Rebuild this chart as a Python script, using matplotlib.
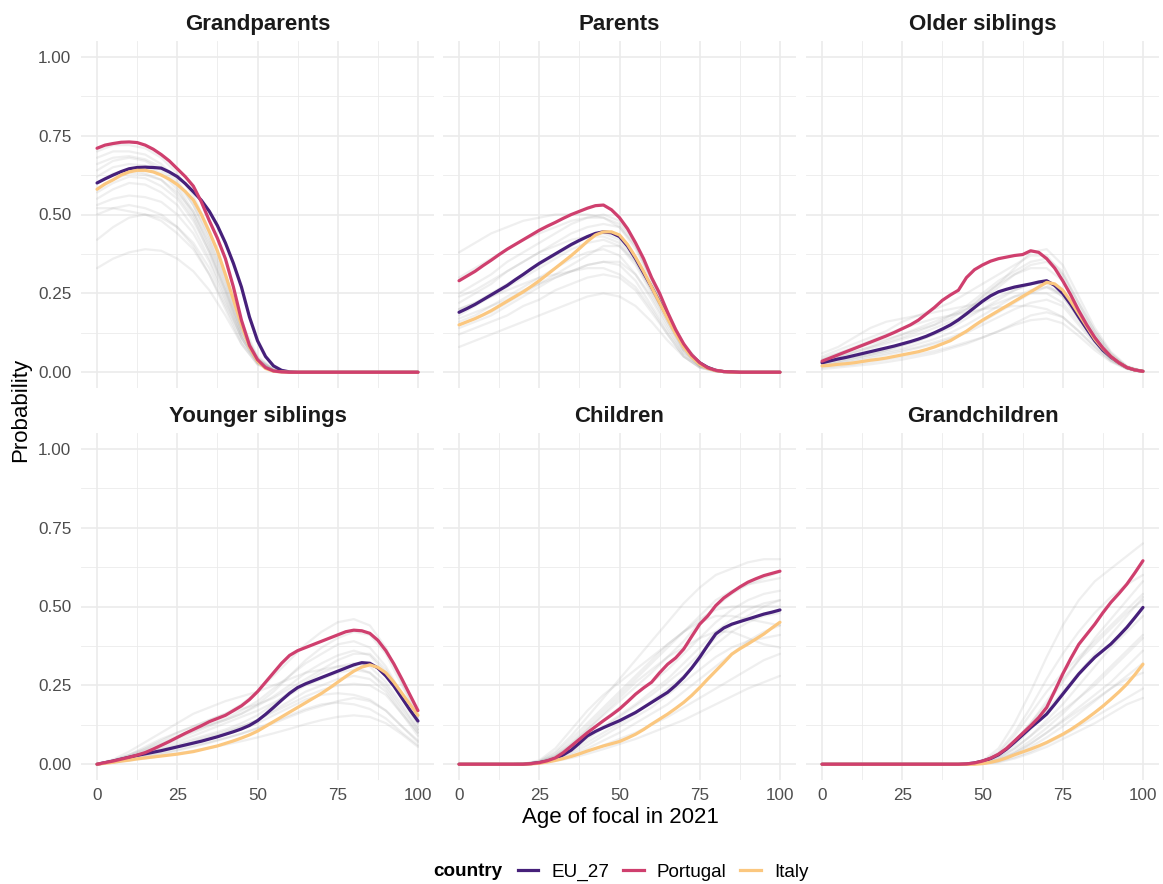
import matplotlib.pyplot as plt
from matplotlib.lines import Line2D

plt.rcParams['font.family'] = ['Liberation Sans', 'DejaVu Sans']

# ages of focal: every 5 years for the other countries, every 2.5 years for the highlighted ones
ages = [0, 5, 10, 15, 20, 25, 30, 35, 40, 45, 50, 55, 60, 65, 70, 75, 80, 85, 90, 95, 100]
ages_fine = [0, 2.5, 5, 7.5, 10, 12.5, 15, 17.5, 20, 22.5, 25, 27.5, 30, 32.5, 35, 37.5, 40,
             42.5, 45, 47.5, 50, 52.5, 55, 57.5, 60, 62.5, 65, 67.5, 70, 72.5, 75, 77.5, 80,
             82.5, 85, 87.5, 90, 92.5, 95, 97.5, 100]

kin_types = ["Grandparents", "Parents", "Older siblings",
             "Younger siblings", "Children", "Grandchildren"]
countries = ["EU_27", "Portugal", "Italy"]
colours = ["#46207A", "#CF3F6E", "#FBC77F"]

# --- Grandparents ---
gp_eu = [0.60, 0.613, 0.625, 0.636, 0.645, 0.649, 0.65, 0.649, 0.647, 0.635, 0.62, 0.598, 0.572,
         0.545, 0.51, 0.465, 0.41, 0.345, 0.27, 0.175, 0.10, 0.05, 0.02, 0.006, 0.001] + [0] * 16
gp_pt = [0.71, 0.72, 0.725, 0.729, 0.73, 0.728, 0.72, 0.707, 0.69, 0.67, 0.645, 0.62, 0.59,
         0.54, 0.48, 0.425, 0.36, 0.27, 0.165, 0.085, 0.04, 0.015, 0.004, 0.001] + [0] * 17
gp_it = [0.58, 0.597, 0.61, 0.625, 0.635, 0.64, 0.64, 0.635, 0.625, 0.612, 0.595, 0.573, 0.546,
         0.50, 0.445, 0.385, 0.31, 0.23, 0.15, 0.08, 0.035, 0.012, 0.003, 0.001] + [0] * 17
gp_other = [
    [0.70, 0.72, 0.72, 0.71, 0.68, 0.63, 0.56, 0.45, 0.31, 0.16, 0.05, 0.01, 0.001, 0, 0, 0, 0, 0, 0, 0, 0],
    [0.68, 0.70, 0.70, 0.69, 0.66, 0.61, 0.53, 0.42, 0.29, 0.14, 0.04, 0.008, 0.001, 0, 0, 0, 0, 0, 0, 0, 0],
    [0.66, 0.68, 0.685, 0.675, 0.65, 0.60, 0.53, 0.43, 0.30, 0.15, 0.045, 0.008, 0.001, 0, 0, 0, 0, 0, 0, 0, 0],
    [0.64, 0.67, 0.68, 0.67, 0.64, 0.59, 0.51, 0.40, 0.27, 0.13, 0.04, 0.006, 0, 0, 0, 0, 0, 0, 0, 0, 0],
    [0.62, 0.65, 0.66, 0.655, 0.63, 0.58, 0.50, 0.39, 0.26, 0.12, 0.035, 0.005, 0, 0, 0, 0, 0, 0, 0, 0, 0],
    [0.60, 0.63, 0.64, 0.63, 0.61, 0.56, 0.49, 0.38, 0.25, 0.12, 0.035, 0.005, 0, 0, 0, 0, 0, 0, 0, 0, 0],
    [0.57, 0.60, 0.62, 0.615, 0.59, 0.55, 0.48, 0.38, 0.26, 0.13, 0.04, 0.007, 0, 0, 0, 0, 0, 0, 0, 0, 0],
    [0.55, 0.58, 0.60, 0.595, 0.57, 0.53, 0.46, 0.36, 0.24, 0.11, 0.03, 0.005, 0, 0, 0, 0, 0, 0, 0, 0, 0],
    [0.53, 0.55, 0.56, 0.555, 0.54, 0.50, 0.44, 0.35, 0.23, 0.11, 0.03, 0.005, 0, 0, 0, 0, 0, 0, 0, 0, 0],
    [0.52, 0.52, 0.51, 0.50, 0.48, 0.44, 0.39, 0.31, 0.21, 0.10, 0.03, 0.005, 0, 0, 0, 0, 0, 0, 0, 0, 0],
    [0.50, 0.52, 0.53, 0.52, 0.50, 0.46, 0.40, 0.31, 0.20, 0.09, 0.025, 0.004, 0, 0, 0, 0, 0, 0, 0, 0, 0],
    [0.42, 0.46, 0.49, 0.50, 0.49, 0.46, 0.41, 0.33, 0.22, 0.11, 0.03, 0.005, 0, 0, 0, 0, 0, 0, 0, 0, 0],
    [0.33, 0.36, 0.38, 0.39, 0.385, 0.36, 0.32, 0.26, 0.18, 0.09, 0.025, 0.004, 0, 0, 0, 0, 0, 0, 0, 0, 0],
    [0.58, 0.61, 0.63, 0.625, 0.61, 0.57, 0.51, 0.41, 0.28, 0.14, 0.045, 0.008, 0.001, 0, 0, 0, 0, 0, 0, 0, 0],
]

# --- Parents ---
pa_eu = [0.19, 0.202, 0.215, 0.23, 0.245, 0.26, 0.275, 0.293, 0.31, 0.328,
         0.345, 0.36, 0.375, 0.39, 0.405, 0.418, 0.43, 0.44, 0.445, 0.442,
         0.43, 0.40, 0.36, 0.315, 0.27, 0.222, 0.175, 0.128, 0.085, 0.053,
         0.03, 0.015, 0.006, 0.002, 0.001] + [0] * 6
pa_pt = [0.29, 0.305, 0.32, 0.338, 0.355, 0.373, 0.39, 0.405, 0.42, 0.435,
         0.45, 0.463, 0.475, 0.488, 0.50, 0.51, 0.52, 0.528, 0.53, 0.515,
         0.49, 0.455, 0.41, 0.36, 0.30, 0.25, 0.19, 0.135, 0.09, 0.055,
         0.03, 0.014, 0.006, 0.002, 0.001] + [0] * 6
pa_it = [0.15, 0.16, 0.17, 0.182, 0.195, 0.21, 0.225, 0.24, 0.255, 0.272,
         0.29, 0.31, 0.33, 0.35, 0.37, 0.392, 0.415, 0.435, 0.445, 0.445,
         0.435, 0.405, 0.365, 0.32, 0.27, 0.22, 0.17, 0.122, 0.08, 0.048,
         0.025, 0.012, 0.005, 0.002] + [0] * 7
pa_other = [
    [0.38, 0.41, 0.44, 0.46, 0.48, 0.49, 0.50, 0.50, 0.50, 0.49, 0.46, 0.39, 0.29, 0.18, 0.08, 0.025, 0.005, 0.001, 0, 0, 0],
    [0.30, 0.33, 0.36, 0.39, 0.42, 0.44, 0.46, 0.48, 0.49, 0.49, 0.47, 0.40, 0.29, 0.18, 0.08, 0.025, 0.005, 0.001, 0, 0, 0],
    [0.25, 0.28, 0.31, 0.35, 0.38, 0.41, 0.44, 0.47, 0.49, 0.50, 0.48, 0.41, 0.30, 0.19, 0.09, 0.03, 0.006, 0.001, 0, 0, 0],
    [0.22, 0.25, 0.28, 0.32, 0.35, 0.38, 0.41, 0.44, 0.46, 0.47, 0.46, 0.40, 0.30, 0.19, 0.09, 0.03, 0.006, 0.001, 0, 0, 0],
    [0.20, 0.22, 0.25, 0.28, 0.31, 0.34, 0.37, 0.40, 0.43, 0.44, 0.42, 0.36, 0.27, 0.17, 0.08, 0.025, 0.005, 0.001, 0, 0, 0],
    [0.18, 0.21, 0.24, 0.27, 0.30, 0.33, 0.36, 0.39, 0.41, 0.42, 0.40, 0.34, 0.25, 0.16, 0.07, 0.02, 0.004, 0, 0, 0, 0],
    [0.16, 0.18, 0.21, 0.24, 0.27, 0.30, 0.33, 0.36, 0.38, 0.39, 0.37, 0.31, 0.23, 0.14, 0.06, 0.02, 0.004, 0, 0, 0, 0],
    [0.14, 0.16, 0.18, 0.21, 0.24, 0.27, 0.30, 0.32, 0.34, 0.35, 0.34, 0.29, 0.21, 0.13, 0.06, 0.02, 0.004, 0, 0, 0, 0],
    [0.20, 0.22, 0.24, 0.26, 0.28, 0.30, 0.31, 0.32, 0.33, 0.33, 0.31, 0.27, 0.20, 0.12, 0.05, 0.015, 0.003, 0, 0, 0, 0],
    [0.12, 0.14, 0.16, 0.18, 0.21, 0.23, 0.26, 0.28, 0.30, 0.31, 0.30, 0.26, 0.19, 0.12, 0.05, 0.015, 0.003, 0, 0, 0, 0],
    [0.08, 0.10, 0.12, 0.14, 0.16, 0.18, 0.20, 0.22, 0.24, 0.25, 0.24, 0.21, 0.16, 0.10, 0.05, 0.015, 0.003, 0, 0, 0, 0],
    [0.15, 0.17, 0.19, 0.22, 0.25, 0.28, 0.31, 0.34, 0.37, 0.40, 0.40, 0.35, 0.26, 0.17, 0.08, 0.025, 0.005, 0.001, 0, 0, 0],
    [0.24, 0.26, 0.29, 0.32, 0.35, 0.38, 0.40, 0.42, 0.43, 0.43, 0.41, 0.35, 0.26, 0.16, 0.07, 0.02, 0.004, 0, 0, 0, 0],
    [0.17, 0.19, 0.21, 0.23, 0.26, 0.28, 0.30, 0.32, 0.34, 0.35, 0.35, 0.31, 0.24, 0.15, 0.07, 0.02, 0.004, 0, 0, 0, 0],
]

# --- Older siblings ---
os_eu = [0.03, 0.036, 0.042, 0.047, 0.053, 0.059, 0.065, 0.071, 0.077, 0.083,
         0.09, 0.097, 0.105, 0.114, 0.125, 0.137, 0.15, 0.166, 0.185, 0.205,
         0.225, 0.242, 0.255, 0.263, 0.27, 0.275, 0.28, 0.286, 0.29, 0.275,
         0.25, 0.215, 0.175, 0.137, 0.10, 0.07, 0.048, 0.03, 0.015, 0.007, 0.003]
os_pt = [0.035, 0.045, 0.055, 0.065, 0.075, 0.085, 0.095, 0.105, 0.115, 0.126,
         0.138, 0.15, 0.165, 0.185, 0.205, 0.228, 0.245, 0.26, 0.30, 0.325,
         0.34, 0.352, 0.36, 0.365, 0.37, 0.373, 0.385, 0.38, 0.36, 0.33,
         0.29, 0.245, 0.195, 0.15, 0.11, 0.077, 0.05, 0.03, 0.015, 0.007, 0.003]
os_it = [0.02, 0.022, 0.025, 0.027, 0.03, 0.034, 0.038, 0.041, 0.045, 0.05,
         0.055, 0.06, 0.065, 0.072, 0.08, 0.09, 0.10, 0.115, 0.13, 0.148,
         0.165, 0.18, 0.195, 0.21, 0.225, 0.24, 0.255, 0.27, 0.285, 0.28,
         0.26, 0.225, 0.185, 0.145, 0.105, 0.075, 0.05, 0.03, 0.015, 0.007, 0.003]
os_other = [
    [0.05, 0.07, 0.09, 0.11, 0.13, 0.16, 0.18, 0.20, 0.22, 0.25, 0.28, 0.31, 0.34, 0.37, 0.37, 0.31, 0.21, 0.12, 0.05, 0.015, 0.003],
    [0.06, 0.08, 0.11, 0.14, 0.16, 0.17, 0.18, 0.19, 0.20, 0.21, 0.22, 0.24, 0.26, 0.28, 0.28, 0.24, 0.17, 0.10, 0.045, 0.013, 0.003],
    [0.04, 0.05, 0.065, 0.08, 0.095, 0.11, 0.13, 0.15, 0.18, 0.21, 0.25, 0.29, 0.32, 0.35, 0.36, 0.32, 0.22, 0.13, 0.06, 0.017, 0.003],
    [0.03, 0.04, 0.05, 0.06, 0.07, 0.085, 0.10, 0.12, 0.14, 0.17, 0.20, 0.23, 0.26, 0.28, 0.29, 0.26, 0.19, 0.11, 0.05, 0.015, 0.003],
    [0.025, 0.035, 0.045, 0.055, 0.065, 0.075, 0.09, 0.105, 0.125, 0.15, 0.18, 0.21, 0.24, 0.26, 0.27, 0.24, 0.17, 0.10, 0.045, 0.013, 0.003],
    [0.02, 0.028, 0.036, 0.045, 0.055, 0.065, 0.077, 0.09, 0.105, 0.125, 0.15, 0.175, 0.20, 0.22, 0.23, 0.21, 0.15, 0.09, 0.04, 0.012, 0.002],
    [0.015, 0.02, 0.025, 0.032, 0.04, 0.048, 0.057, 0.067, 0.08, 0.095, 0.11, 0.13, 0.15, 0.165, 0.17, 0.155, 0.115, 0.07, 0.033, 0.01, 0.002],
    [0.03, 0.045, 0.06, 0.075, 0.09, 0.105, 0.12, 0.14, 0.16, 0.18, 0.20, 0.22, 0.24, 0.25, 0.25, 0.22, 0.16, 0.095, 0.043, 0.013, 0.003],
    [0.035, 0.05, 0.065, 0.08, 0.10, 0.12, 0.14, 0.16, 0.18, 0.20, 0.23, 0.27, 0.31, 0.33, 0.33, 0.29, 0.20, 0.12, 0.055, 0.016, 0.003],
    [0.01, 0.015, 0.02, 0.025, 0.032, 0.04, 0.05, 0.06, 0.075, 0.09, 0.11, 0.13, 0.155, 0.18, 0.19, 0.175, 0.13, 0.08, 0.037, 0.011, 0.002],
    [0.04, 0.06, 0.08, 0.10, 0.12, 0.14, 0.155, 0.17, 0.18, 0.19, 0.20, 0.205, 0.21, 0.21, 0.20, 0.175, 0.13, 0.08, 0.037, 0.011, 0.002],
    [0.025, 0.035, 0.045, 0.055, 0.07, 0.085, 0.10, 0.12, 0.15, 0.19, 0.24, 0.28, 0.31, 0.34, 0.35, 0.31, 0.22, 0.13, 0.06, 0.017, 0.003],
    [0.02, 0.03, 0.04, 0.05, 0.06, 0.07, 0.08, 0.095, 0.11, 0.13, 0.16, 0.19, 0.22, 0.25, 0.27, 0.25, 0.18, 0.11, 0.05, 0.015, 0.003],
    [0.045, 0.06, 0.075, 0.09, 0.105, 0.12, 0.135, 0.15, 0.17, 0.20, 0.24, 0.28, 0.33, 0.38, 0.39, 0.34, 0.24, 0.14, 0.065, 0.02, 0.004],
]

# --- Younger siblings ---
ys_eu = [0, 0.005, 0.01, 0.016, 0.022, 0.028, 0.033, 0.038, 0.043, 0.049,
         0.055, 0.061, 0.067, 0.073, 0.08, 0.087, 0.095, 0.103, 0.112, 0.123,
         0.138, 0.158, 0.18, 0.203, 0.225, 0.243, 0.255, 0.265, 0.275, 0.285,
         0.295, 0.305, 0.315, 0.322, 0.32, 0.305, 0.28, 0.248, 0.21, 0.172, 0.137]
ys_pt = [0, 0.005, 0.01, 0.016, 0.022, 0.029, 0.037, 0.048, 0.06, 0.072,
         0.085, 0.098, 0.11, 0.122, 0.135, 0.145, 0.155, 0.17, 0.185, 0.205,
         0.23, 0.26, 0.29, 0.32, 0.345, 0.36, 0.37, 0.38, 0.39, 0.40,
         0.41, 0.42, 0.425, 0.423, 0.415, 0.393, 0.36, 0.318, 0.27, 0.22, 0.17]
ys_it = [0, 0.003, 0.006, 0.01, 0.013, 0.017, 0.02, 0.023, 0.026, 0.029,
         0.032, 0.036, 0.04, 0.046, 0.052, 0.058, 0.066, 0.074, 0.083, 0.093,
         0.105, 0.12, 0.135, 0.15, 0.165, 0.18, 0.195, 0.21, 0.225, 0.242,
         0.26, 0.278, 0.295, 0.308, 0.315, 0.307, 0.29, 0.26, 0.225, 0.19, 0.155]
ys_other = [
    [0, 0.012, 0.03, 0.055, 0.08, 0.10, 0.12, 0.14, 0.16, 0.19, 0.23, 0.28, 0.33, 0.38, 0.42, 0.45, 0.46, 0.44, 0.37, 0.26, 0.15],
    [0, 0.015, 0.04, 0.07, 0.10, 0.13, 0.16, 0.18, 0.20, 0.215, 0.23, 0.25, 0.27, 0.29, 0.30, 0.31, 0.31, 0.29, 0.24, 0.17, 0.10],
    [0, 0.01, 0.025, 0.045, 0.065, 0.085, 0.105, 0.125, 0.145, 0.17, 0.20, 0.24, 0.28, 0.32, 0.35, 0.38, 0.39, 0.37, 0.31, 0.22, 0.13],
    [0, 0.008, 0.02, 0.035, 0.05, 0.065, 0.08, 0.095, 0.11, 0.13, 0.155, 0.19, 0.23, 0.26, 0.29, 0.31, 0.32, 0.31, 0.26, 0.19, 0.11],
    [0, 0.008, 0.018, 0.03, 0.043, 0.056, 0.07, 0.085, 0.10, 0.12, 0.14, 0.17, 0.20, 0.23, 0.25, 0.27, 0.28, 0.27, 0.23, 0.16, 0.09],
    [0, 0.006, 0.014, 0.024, 0.035, 0.046, 0.058, 0.07, 0.083, 0.097, 0.113, 0.13, 0.15, 0.17, 0.185, 0.20, 0.21, 0.20, 0.17, 0.12, 0.07],
    [0, 0.005, 0.011, 0.018, 0.026, 0.034, 0.043, 0.052, 0.062, 0.073, 0.085, 0.098, 0.112, 0.127, 0.14, 0.15, 0.155, 0.15, 0.13, 0.095, 0.055],
    [0, 0.012, 0.03, 0.05, 0.075, 0.10, 0.12, 0.14, 0.16, 0.175, 0.19, 0.21, 0.24, 0.27, 0.30, 0.33, 0.35, 0.35, 0.30, 0.22, 0.13],
    [0, 0.01, 0.022, 0.038, 0.055, 0.072, 0.09, 0.11, 0.13, 0.15, 0.17, 0.195, 0.22, 0.25, 0.27, 0.29, 0.30, 0.29, 0.25, 0.18, 0.11],
    [0, 0.009, 0.02, 0.033, 0.047, 0.06, 0.075, 0.09, 0.105, 0.12, 0.14, 0.165, 0.19, 0.215, 0.235, 0.25, 0.255, 0.25, 0.22, 0.16, 0.10],
    [0, 0.007, 0.016, 0.027, 0.04, 0.053, 0.066, 0.08, 0.095, 0.11, 0.13, 0.155, 0.18, 0.205, 0.22, 0.225, 0.22, 0.205, 0.17, 0.12, 0.075],
    [0, 0.012, 0.028, 0.048, 0.07, 0.09, 0.11, 0.125, 0.14, 0.16, 0.19, 0.23, 0.28, 0.33, 0.37, 0.40, 0.42, 0.41, 0.35, 0.25, 0.15],
    [0, 0.006, 0.013, 0.022, 0.032, 0.043, 0.055, 0.068, 0.082, 0.097, 0.115, 0.135, 0.155, 0.175, 0.19, 0.195, 0.19, 0.175, 0.145, 0.10, 0.06],
    [0, 0.01, 0.024, 0.042, 0.06, 0.08, 0.10, 0.12, 0.14, 0.16, 0.185, 0.215, 0.25, 0.29, 0.32, 0.345, 0.36, 0.345, 0.29, 0.21, 0.12],
]

# --- Children ---
ch_eu = [0] * 9 + [0.002, 0.005, 0.01, 0.018, 0.03, 0.045, 0.067, 0.09, 0.104, 0.116,
                   0.127, 0.138, 0.151, 0.164, 0.18, 0.196, 0.212, 0.228, 0.25, 0.275,
                   0.305, 0.339, 0.377, 0.413, 0.432, 0.444, 0.452, 0.46, 0.468, 0.476,
                   0.482, 0.489]
ch_pt = [0] * 9 + [0.002, 0.005, 0.011, 0.02, 0.037, 0.058, 0.079, 0.10, 0.119, 0.138,
                   0.156, 0.175, 0.198, 0.222, 0.242, 0.26, 0.29, 0.317, 0.337, 0.365,
                   0.405, 0.444, 0.47, 0.503, 0.527, 0.545, 0.562, 0.577, 0.588, 0.598,
                   0.605, 0.612]
ch_it = [0] * 9 + [0.001, 0.003, 0.007, 0.012, 0.018, 0.025, 0.033, 0.042, 0.05, 0.058,
                   0.065, 0.072, 0.083, 0.095, 0.11, 0.127, 0.143, 0.159, 0.177, 0.196,
                   0.218, 0.243, 0.27, 0.296, 0.322, 0.349, 0.366, 0.381, 0.397, 0.413,
                   0.432, 0.45]
ch_other = [
    [0, 0, 0, 0, 0.001, 0.01, 0.04, 0.09, 0.15, 0.21, 0.27, 0.33, 0.39, 0.45, 0.51, 0.56, 0.60, 0.62, 0.64, 0.65, 0.65],
    [0, 0, 0, 0, 0.001, 0.012, 0.05, 0.11, 0.17, 0.22, 0.26, 0.30, 0.34, 0.38, 0.42, 0.46, 0.49, 0.50, 0.50, 0.50, 0.50],
    [0, 0, 0, 0, 0.001, 0.008, 0.03, 0.07, 0.12, 0.17, 0.22, 0.27, 0.32, 0.37, 0.42, 0.47, 0.52, 0.55, 0.57, 0.58, 0.59],
    [0, 0, 0, 0, 0.001, 0.007, 0.025, 0.06, 0.10, 0.14, 0.18, 0.22, 0.26, 0.30, 0.35, 0.40, 0.45, 0.49, 0.52, 0.54, 0.55],
    [0, 0, 0, 0, 0.001, 0.006, 0.022, 0.05, 0.085, 0.12, 0.155, 0.19, 0.23, 0.27, 0.32, 0.37, 0.42, 0.46, 0.49, 0.51, 0.52],
    [0, 0, 0, 0, 0.001, 0.005, 0.018, 0.04, 0.07, 0.10, 0.13, 0.16, 0.20, 0.24, 0.28, 0.33, 0.38, 0.42, 0.45, 0.47, 0.48],
    [0, 0, 0, 0, 0.001, 0.004, 0.014, 0.03, 0.05, 0.075, 0.10, 0.13, 0.16, 0.19, 0.23, 0.27, 0.31, 0.35, 0.39, 0.42, 0.44],
    [0, 0, 0, 0, 0.001, 0.004, 0.012, 0.025, 0.04, 0.06, 0.08, 0.10, 0.125, 0.15, 0.18, 0.21, 0.24, 0.27, 0.30, 0.33, 0.35],
    [0, 0, 0, 0, 0.001, 0.003, 0.01, 0.02, 0.033, 0.048, 0.064, 0.08, 0.10, 0.12, 0.14, 0.165, 0.19, 0.215, 0.24, 0.26, 0.28],
    [0, 0, 0, 0, 0.001, 0.008, 0.035, 0.08, 0.13, 0.18, 0.23, 0.28, 0.33, 0.38, 0.42, 0.45, 0.47, 0.47, 0.46, 0.45, 0.44],
    [0, 0, 0, 0, 0.001, 0.006, 0.025, 0.06, 0.11, 0.16, 0.21, 0.26, 0.30, 0.34, 0.37, 0.40, 0.42, 0.42, 0.40, 0.38, 0.37],
    [0, 0, 0, 0, 0.001, 0.007, 0.028, 0.065, 0.11, 0.155, 0.20, 0.245, 0.29, 0.34, 0.39, 0.45, 0.50, 0.54, 0.57, 0.59, 0.61],
    [0, 0, 0, 0, 0.001, 0.005, 0.02, 0.045, 0.08, 0.115, 0.15, 0.185, 0.22, 0.26, 0.30, 0.35, 0.40, 0.44, 0.47, 0.50, 0.52],
    [0, 0, 0, 0, 0.001, 0.004, 0.015, 0.035, 0.06, 0.09, 0.12, 0.15, 0.18, 0.22, 0.26, 0.30, 0.34, 0.37, 0.39, 0.40, 0.41],
]

# --- Grandchildren ---
gc_eu = [0] * 18 + [0.001, 0.004, 0.01, 0.018, 0.03, 0.048, 0.07, 0.093, 0.116, 0.137,
                    0.159, 0.19, 0.222, 0.254, 0.286, 0.313, 0.339, 0.36, 0.381, 0.407,
                    0.434, 0.465, 0.497]
gc_pt = [0] * 18 + [0.001, 0.004, 0.01, 0.019, 0.032, 0.05, 0.074, 0.098, 0.122, 0.148,
                    0.18, 0.232, 0.286, 0.335, 0.38, 0.412, 0.444, 0.48, 0.513, 0.541,
                    0.571, 0.607, 0.645]
gc_it = [0] * 20 + [0.002, 0.006, 0.012, 0.02, 0.03, 0.039, 0.048, 0.058, 0.069, 0.082,
                    0.095, 0.11, 0.127, 0.145, 0.164, 0.184, 0.206, 0.229, 0.254, 0.284,
                    0.317]
gc_other = [
    [0, 0, 0, 0, 0, 0, 0, 0, 0, 0, 0.01, 0.05, 0.13, 0.23, 0.34, 0.44, 0.52, 0.58, 0.62, 0.66, 0.70],
    [0, 0, 0, 0, 0, 0, 0, 0, 0, 0, 0.008, 0.04, 0.10, 0.18, 0.27, 0.35, 0.42, 0.48, 0.53, 0.57, 0.60],
    [0, 0, 0, 0, 0, 0, 0, 0, 0, 0, 0.006, 0.03, 0.075, 0.13, 0.19, 0.26, 0.33, 0.40, 0.46, 0.52, 0.58],
    [0, 0, 0, 0, 0, 0, 0, 0, 0, 0, 0.005, 0.025, 0.06, 0.11, 0.17, 0.23, 0.29, 0.35, 0.41, 0.47, 0.53],
    [0, 0, 0, 0, 0, 0, 0, 0, 0, 0, 0.004, 0.02, 0.05, 0.09, 0.14, 0.19, 0.25, 0.31, 0.37, 0.42, 0.47],
    [0, 0, 0, 0, 0, 0, 0, 0, 0, 0, 0.003, 0.015, 0.04, 0.075, 0.115, 0.16, 0.21, 0.26, 0.31, 0.36, 0.41],
    [0, 0, 0, 0, 0, 0, 0, 0, 0, 0, 0.002, 0.01, 0.03, 0.055, 0.085, 0.12, 0.16, 0.20, 0.24, 0.28, 0.32],
    [0, 0, 0, 0, 0, 0, 0, 0, 0, 0, 0.002, 0.008, 0.022, 0.04, 0.065, 0.09, 0.12, 0.15, 0.18, 0.21, 0.24],
    [0, 0, 0, 0, 0, 0, 0, 0, 0, 0, 0.006, 0.035, 0.09, 0.16, 0.23, 0.29, 0.34, 0.39, 0.44, 0.49, 0.54],
    [0, 0, 0, 0, 0, 0, 0, 0, 0, 0, 0.004, 0.02, 0.05, 0.09, 0.13, 0.17, 0.21, 0.25, 0.30, 0.35, 0.40],
    [0, 0, 0, 0, 0, 0, 0, 0, 0, 0, 0.002, 0.012, 0.035, 0.065, 0.10, 0.14, 0.18, 0.22, 0.26, 0.31, 0.36],
    [0, 0, 0, 0, 0, 0, 0, 0, 0, 0, 0.005, 0.028, 0.07, 0.13, 0.20, 0.27, 0.33, 0.38, 0.43, 0.48, 0.52],
    [0, 0, 0, 0, 0, 0, 0, 0, 0, 0, 0.003, 0.014, 0.035, 0.065, 0.10, 0.135, 0.17, 0.205, 0.24, 0.27, 0.29],
    [0, 0, 0, 0, 0, 0, 0, 0, 0, 0, 0.001, 0.006, 0.018, 0.035, 0.055, 0.08, 0.105, 0.13, 0.16, 0.19, 0.21],
]

highlight = [
    (gp_eu, gp_pt, gp_it), (pa_eu, pa_pt, pa_it), (os_eu, os_pt, os_it),
    (ys_eu, ys_pt, ys_it), (ch_eu, ch_pt, ch_it), (gc_eu, gc_pt, gc_it),
]
others = [gp_other, pa_other, os_other, ys_other, ch_other, gc_other]

x_ticks = [0, 25, 50, 75, 100]
y_ticks = [0, 0.25, 0.5, 0.75, 1.0]
y_ticklabels = ["0.00", "0.25", "0.50", "0.75", "1.00"]

W, H = 1163, 884
fig = plt.figure(figsize=(W / 100, H / 100), dpi=100)
fig.patch.set_facecolor("white")

lefts = [81, 443, 806]
tops = [41, 433]
pw, ph = 353, 347

for i, kin in enumerate(kin_types):
    r, c = divmod(i, 3)
    ax = fig.add_axes([lefts[c] / W, 1 - (tops[r] + ph) / H, pw / W, ph / H])

    for y in others[i]:
        ax.plot(ages, y, color="#9E9E9E", alpha=0.16, lw=1.6,
                solid_joinstyle="round", solid_capstyle="round", zorder=2)

    eu, pt, it = highlight[i]
    # EU_27 first, Portugal drawn last so it sits on top
    for vals, col in [(eu, colours[0]), (it, colours[2]), (pt, colours[1])]:
        ax.plot(ages_fine, vals, color=col, lw=2.3, solid_joinstyle="round",
                solid_capstyle="round", zorder=3)

    ax.set_xlim(-5, 105)
    ax.set_ylim(-0.05, 1.05)
    ax.set_xticks(x_ticks)
    ax.set_xticks([12.5, 37.5, 62.5, 87.5], minor=True)
    ax.set_yticks(y_ticks)
    ax.set_yticks([0.125, 0.375, 0.625, 0.875], minor=True)
    ax.grid(which="major", color="#EBEBEB", lw=1.2, zorder=0)
    ax.grid(which="minor", color="#EBEBEB", lw=0.6, zorder=0)
    ax.set_axisbelow(True)
    for s in ax.spines.values():
        s.set_visible(False)
    ax.tick_params(which="both", length=0, labelsize=12.3, labelcolor="#4D4D4D")
    ax.tick_params(axis="y", pad=7)
    ax.tick_params(axis="x", pad=6)

    if c == 0:
        ax.set_yticklabels(y_ticklabels)
    else:
        ax.set_yticklabels([])
    if r == 1:
        ax.set_xticklabels([str(v) for v in x_ticks])
    else:
        ax.set_xticklabels([])

    ax.set_title(kin, fontsize=16, fontweight="bold", color="#1A1A1A", pad=8)

fig.text(620 / W, 1 - 818 / H, "Age of focal in 2021", ha="center", va="center", fontsize=16)
fig.text(21 / W, 1 - 410 / H, "Probability", ha="center", va="center",
         rotation=90, fontsize=16)

# legend along the bottom
handles = [Line2D([], [], color=col, lw=2.3) for col in colours]
fig.legend(handles, countries, loc="center", bbox_to_anchor=(663 / W, 1 - 872 / H),
           ncol=3, frameon=False, fontsize=13.6, handlelength=1.1,
           handletextpad=0.7, columnspacing=0.7)
fig.text(433 / W, 1 - 872 / H, "country", ha="left", va="center",
         fontsize=13.6, fontweight="bold")

fig.savefig("out.png", dpi=100)
